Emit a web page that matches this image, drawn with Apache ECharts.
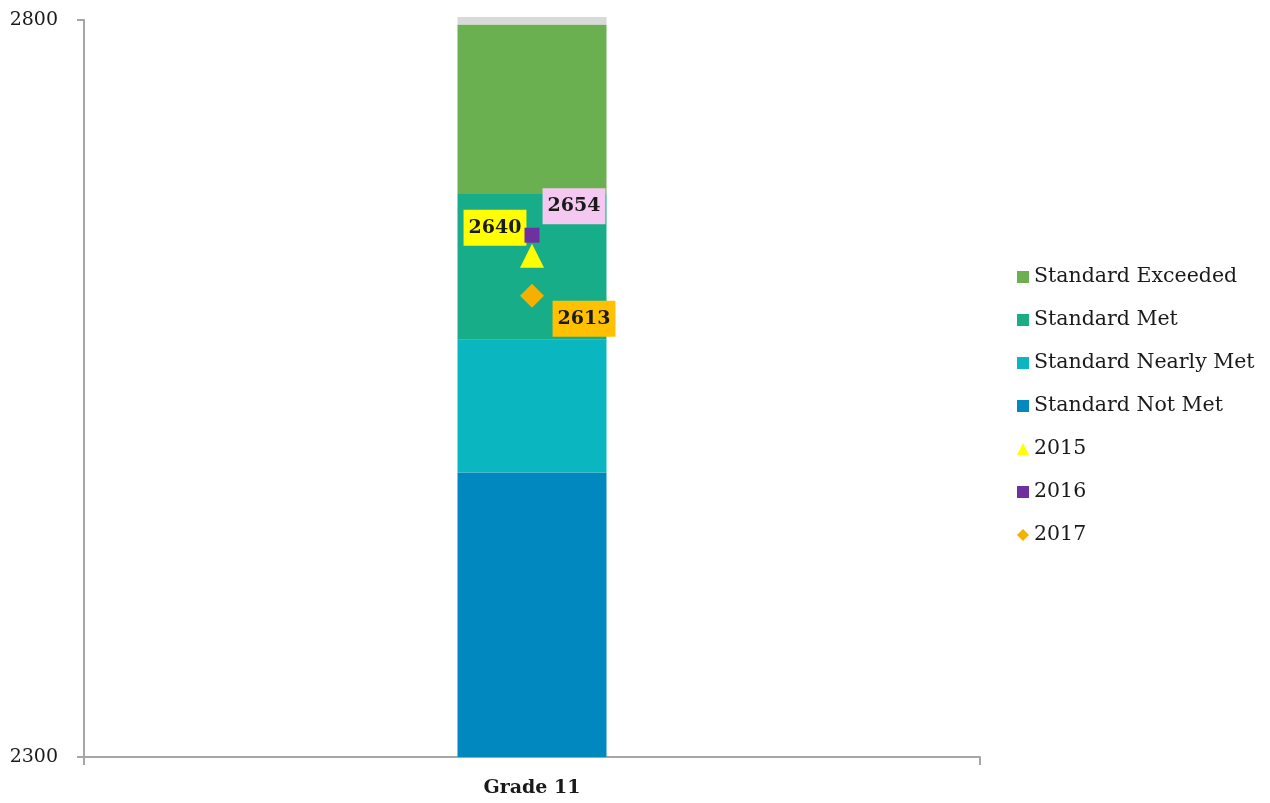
<!DOCTYPE html>
<html>
<head>
<meta charset="utf-8">
<script src="https://cdn.jsdelivr.net/npm/echarts@6/dist/echarts.min.js"></script>
<style>
  html, body { margin: 0; padding: 0; background: #fff; }
  #chart { width: 1270px; height: 803px; }
</style>
</head>
<body>
<div id="chart"></div>
<script>
// data
var categories = ['Grade 11'];
var bandNames = ['Standard Not Met', 'Standard Nearly Met', 'Standard Met', 'Standard Exceeded'];
var bandTops = [2493, 2583, 2682, 2797];
var scaleTop = 2802;
var yearNames = ['2015', '2016', '2017'];
var yearScores = [2640, 2654, 2613];
var yTicks = [2300, 2800];

var FONT = '"DejaVu Serif", "Liberation Serif", serif';
var bandColors = ['#0088bf', '#0ab6bf', '#17ad88', '#6aaf50'];

var series = [];
var prev = 0;
bandNames.forEach(function (name, i) {
  series.push({
    name: name,
    type: 'bar',
    stack: 'bands',
    barWidth: 149,
    itemStyle: { color: bandColors[i] },
    data: [bandTops[i] - prev]
  });
  prev = bandTops[i];
});
series.push({
  name: 'cap',
  type: 'bar',
  stack: 'bands',
  barWidth: 149,
  clip: false,
  itemStyle: { color: '#d9d9d9' },
  data: [scaleTop - prev]
});

var yearStyles = [
  { symbol: 'triangle', size: 24, color: '#ffff00', bg: '#ffff00', offset: [-37, -28] },
  { symbol: 'rect', size: 15, color: '#7030a0', bg: '#f4c8f0', offset: [42, -29] },
  { symbol: 'diamond', size: 24, color: '#f5b000', bg: '#ffc000', offset: [52, 23] }
];
yearNames.forEach(function (name, i) {
  var st = yearStyles[i];
  series.push({
    name: name,
    type: 'scatter',
    symbol: st.symbol,
    symbolSize: st.size,
    z: 5 + i,
    itemStyle: { color: st.color, opacity: 1 },
    label: {
      show: true,
      position: 'inside',
      offset: st.offset,
      formatter: String(yearScores[i]),
      backgroundColor: st.bg,
      padding: [9, 5, 8, 5],
      color: '#1a1a1a',
      fontFamily: FONT,
      fontWeight: 'bold',
      fontSize: 19
    },
    data: [[categories[0], yearScores[i]]]
  });
});

var chart = echarts.init(document.getElementById('chart'));
chart.setOption({
  animation: false,
  grid: { left: 84, right: 290, top: 20, bottom: 46 },
  legend: {
    orient: 'vertical',
    left: 1012,
    top: 261,
    itemWidth: 12,
    itemHeight: 12,
    itemGap: 21,
    data: [
      { name: 'Standard Exceeded', icon: 'rect' },
      { name: 'Standard Met', icon: 'rect' },
      { name: 'Standard Nearly Met', icon: 'rect' },
      { name: 'Standard Not Met', icon: 'rect' },
      { name: '2015', icon: 'triangle' },
      { name: '2016', icon: 'rect' },
      { name: '2017', icon: 'diamond' }
    ],
    textStyle: { fontFamily: FONT, fontSize: 20.5, color: '#1a1a1a', lineHeight: 22, padding: [0, 0, 0, 0] }
  },
  xAxis: {
    type: 'category',
    data: categories,
    axisLine: { lineStyle: { color: '#a6a6a6', width: 2 } },
    axisTick: { show: true, length: 8, lineStyle: { color: '#a6a6a6', width: 2 } },
    axisLabel: { margin: 22, fontFamily: FONT, fontWeight: 'bold', fontSize: 19, color: '#1a1a1a' }
  },
  yAxis: {
    type: 'value',
    min: yTicks[0],
    max: yTicks[1],
    interval: yTicks[1] - yTicks[0],
    splitLine: { show: false },
    axisLine: { show: true, lineStyle: { color: '#a6a6a6', width: 2 } },
    axisTick: { show: true, length: 7, lineStyle: { color: '#a6a6a6', width: 2 } },
    axisLabel: {
      margin: 26,
      fontFamily: FONT,
      fontSize: 19,
      color: '#1a1a1a',
      formatter: function (v) { return String(v); }
    }
  },
  series: series
});
</script>
</body>
</html>
